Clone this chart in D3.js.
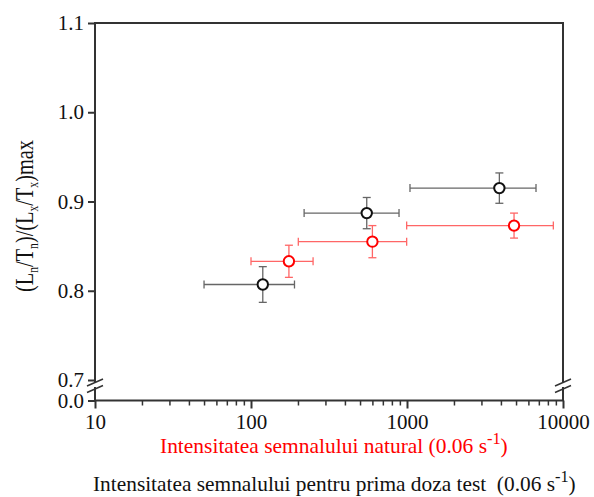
<!DOCTYPE html>
<html>
<head>
<meta charset="utf-8">
<script src="https://cdn.jsdelivr.net/npm/d3@7"></script>
<style>
  body { margin: 0; background: #fff; }
  svg text { font-family: "Liberation Serif", "Times New Roman", serif; }
</style>
</head>
<body>
<div id="chart"></div>
<script>
/* DATA */
const blackX = [119, 552, 3909];
const blackY = [0.807, 0.887, 0.915];
const blackXLo = [50, 219, 1045];
const blackXHi = [190, 889, 6714];
const blackYErr = [0.020, 0.0175, 0.017];

const redX = [175, 600, 4855];
const redY = [0.833, 0.855, 0.873];
const redXLo = [100, 201, 995];
const redXHi = [250, 995, 8670];
const redYErr = [0.018, 0.018, 0.014];

const xTicks = [10, 100, 1000, 10000];
const yTicks = [0.0, 0.7, 0.8, 0.9, 1.0, 1.1];

/* CONSTANTS */
const width = 594, height = 497,
  margin = { top: 23, bottom: 96, left: 95, right: 31 };

const svg = d3.select("#chart").append("svg")
  .attr("width", width)
  .attr("height", height);

const xScale = d3.scaleLog()
  .domain([10, 10000])
  .range([margin.left, width - margin.right]);

// broken axis: 0.0 sits just below 0.7
const yScale = d3.scaleLinear()
  .domain([0, 0.7, 1.1])
  .range([height - margin.bottom - 0.5, 380, margin.top]);

const axisColor = "#333";

// frame
svg.append("rect")
  .attr("x", xScale(10))
  .attr("y", yScale(1.1))
  .attr("width", xScale(10000) - xScale(10))
  .attr("height", yScale(0) - yScale(1.1))
  .attr("fill", "none")
  .attr("stroke", axisColor)
  .attr("stroke-width", 2);

// minor ticks on x
const minor = [];
[10, 100, 1000].forEach(d => { for (let k = 2; k <= 9; k++) minor.push(d * k); });

svg.append("g")
  .attr("transform", `translate(0, ${yScale(0)})`)
  .call(d3.axisBottom(xScale).tickValues(minor).tickSize(5).tickFormat(""))
  .call(g => g.select(".domain").remove())
  .call(g => g.selectAll("line").attr("stroke", axisColor).attr("stroke-width", 1.5));

svg.append("g")
  .attr("transform", `translate(0, ${yScale(0)})`)
  .call(d3.axisBottom(xScale).tickValues(xTicks).tickSize(8).tickPadding(6).tickFormat(d3.format("d")))
  .call(g => g.select(".domain").remove())
  .call(g => g.selectAll("line").attr("stroke", axisColor).attr("stroke-width", 2))
  .call(g => g.selectAll("text").attr("font-size", 21).attr("fill", "#111")
    .attr("font-family", "Liberation Serif"));

svg.append("g")
  .attr("transform", `translate(${margin.left}, 0)`)
  .call(d3.axisLeft(yScale).tickValues(yTicks).tickSize(7).tickPadding(4).tickFormat(d3.format(".1f")))
  .call(g => g.select(".domain").remove())
  .call(g => g.selectAll("line").attr("stroke", axisColor).attr("stroke-width", 2))
  .call(g => g.selectAll("text").attr("font-size", 21).attr("fill", "#111")
    .attr("font-family", "Liberation Serif"));

// axis breaks on left and right
[xScale(10), xScale(10000)].forEach(x0 => {
  svg.append("rect")
    .attr("x", x0 - 3).attr("y", 382.5).attr("width", 6).attr("height", 4.5)
    .attr("fill", "#fff");
  [0, 6.5].forEach(dy => {
    svg.append("line")
      .attr("x1", x0 - 8).attr("y1", 386 + dy)
      .attr("x2", x0 + 8).attr("y2", 379 + dy)
      .attr("stroke", axisColor).attr("stroke-width", 1.5);
  });
});

// error bars + markers
function drawSeries(xs, ys, lo, hi, yerr, barColor, markColor) {
  const g = svg.append("g");
  const data = xs.map((d, i) => ({ x: d, y: ys[i], lo: lo[i], hi: hi[i], e: yerr[i] }));
  const cap = 4;
  data.forEach(d => {
    const cx = xScale(d.x), cy = yScale(d.y);
    const x1 = xScale(d.lo), x2 = xScale(d.hi);
    const y1 = yScale(d.y + d.e), y2 = yScale(d.y - d.e);
    const segs = [
      [x1, cy, x2, cy], [x1, cy - cap, x1, cy + cap], [x2, cy - cap, x2, cy + cap],
      [cx, y1, cx, y2], [cx - cap, y1, cx + cap, y1], [cx - cap, y2, cx + cap, y2]
    ];
    g.selectAll(null).data(segs).join("line")
      .attr("x1", s => s[0]).attr("y1", s => s[1])
      .attr("x2", s => s[2]).attr("y2", s => s[3])
      .attr("stroke", barColor).attr("stroke-width", 1.3);
  });
  g.selectAll("circle").data(data).join("circle")
    .attr("cx", d => xScale(d.x))
    .attr("cy", d => yScale(d.y))
    .attr("r", 5.2)
    .attr("fill", "#fff")
    .attr("stroke", markColor)
    .attr("stroke-width", 2);
}

drawSeries(blackX, blackY, blackXLo, blackXHi, blackYErr, "#666", "#111");
drawSeries(redX, redY, redXLo, redXHi, redYErr, "#ff6666", "#ff0000");

// squeeze/stretch a text horizontally so it covers [x0, x1]
function fitWidth(sel, x0, x1, y) {
  const w = sel.node().getBBox().width;
  sel.attr("x", 0).attr("y", 0)
    .attr("transform", `translate(${x0}, ${y}) scale(${(x1 - x0) / w}, 1)`);
}

// axis titles
const redTitle = svg.append("text")
  .attr("font-size", 21)
  .attr("fill", "#ff0000");
redTitle.append("tspan").text("Intensitatea semnalului natural (0.06 s");
redTitle.append("tspan").attr("dy", -9).attr("font-size", 16).text("-1");
redTitle.append("tspan").attr("dy", 9).text(")");
fitWidth(redTitle, 160, 508, 453);

const blackTitle = svg.append("text")
  .attr("font-size", 21)
  .attr("fill", "#111");
blackTitle.append("tspan").text("Intensitatea semnalului pentru prima doza test\u00a0 (0.06 s");
blackTitle.append("tspan").attr("dy", -9).attr("font-size", 16).text("-1");
blackTitle.append("tspan").attr("dy", 9).text(")");
fitWidth(blackTitle, 93, 576, 491);

const yTitle = svg.append("text")
  .attr("font-size", 26)
  .attr("fill", "#111");
[["(L", false], ["n", true], ["/T", false], ["n", true], [")/(L", false], ["x", true],
 ["/T", false], ["x", true], [")max", false]].forEach((p, i, arr) => {
  const prevSub = i > 0 && arr[i - 1][1];
  const t = yTitle.append("tspan").text(p[0]);
  if (p[1]) t.attr("dy", 5).attr("font-size", 15);
  else if (prevSub) t.attr("dy", -5);
});
const yLen = yTitle.node().getBBox().width;
yTitle.attr("transform", `translate(33, 292) rotate(-90) scale(${152 / yLen}, 1)`);
</script>
</body>
</html>
